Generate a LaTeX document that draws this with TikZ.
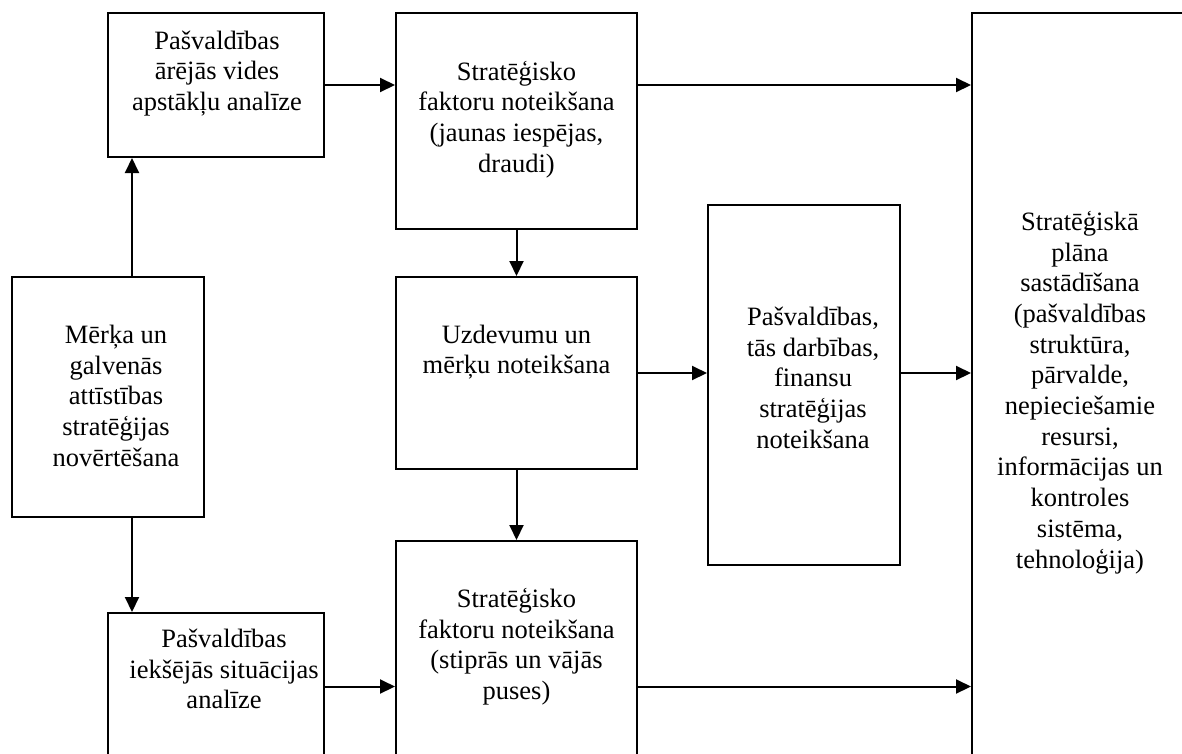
\documentclass[tikz,border=0pt]{standalone}
\usepackage{fontspec}
\setmainfont{Liberation Serif}
\usetikzlibrary{arrows.meta}
\tikzset{
  x=1pt, y=-1pt,
  box/.style={draw, line width=2pt, rectangle, inner sep=0pt},
  lbl/.style={align=center, inner sep=0pt, anchor=north, font=\fontsize{26.5}{30.7}\selectfont},
  arr/.style={line width=2pt, -{Triangle[length=15pt,width=14pt]}}
}
\begin{document}
\begin{tikzpicture}
\useasboundingbox (0,0) rectangle (1182,753);
\clip (0,0) rectangle (1182,753);
% boxes
\node[box, minimum width=216pt, minimum height=144pt] (A) at (216,85) {};
\node[box, minimum width=241pt, minimum height=216pt] (B) at (516.5,121) {};
\node[box, minimum width=241pt, minimum height=192pt] (C) at (516.5,373) {};
\node[box, minimum width=241pt, minimum height=229pt] (D) at (516.5,655.5) {};
\node[box, minimum width=192pt, minimum height=240pt] (E) at (108,397) {};
\node[box, minimum width=216pt, minimum height=147pt] (F) at (216,686.5) {};
\node[box, minimum width=192pt, minimum height=360pt] (G) at (804,385) {};
\node[box, minimum width=228pt, minimum height=757pt] (H) at (1086,391.5) {};
% texts
\node[lbl] (tA) at (217,27.6) {\strut Pašvaldības\\ārējās vides\\apstākļu analīze};
\node[lbl] (tB) at (516.5,58.6) {\strut Stratēģisko\\faktoru noteikšana\\(jaunas iespējas,\\draudi)};
\node[lbl] (tC) at (516.5,321.6) {\strut Uzdevumu un\\mērķu noteikšana};
\node[lbl] (tD) at (516.5,585.6) {\strut Stratēģisko\\faktoru noteikšana\\(stiprās un vājās\\puses)};
\node[lbl] (tE) at (116,321.6) {\strut Mērķa un\\galvenās\\attīstības\\stratēģijas\\novērtēšana};
\node[lbl] (tF) at (224,625.6) {\strut Pašvaldības\\iekšējās situācijas\\analīze};
\node[lbl] (tG) at (813,303.6) {\strut Pašvaldības,\\tās darbības,\\finansu\\stratēģijas\\noteikšana};
\node[lbl] (tH) at (1080,208.6) {\strut Stratēģiskā\\plāna\\sastādīšana\\(pašvaldības\\struktūra,\\pārvalde,\\nepieciešamie\\resursi,\\informācijas un\\kontroles\\sistēma,\\tehnoloģija)};
% connectors
\coordinate (ax) at (132,0);
\draw[arr] (E.north -| ax) -- (A.south -| ax);
\draw[arr] (E.south -| ax) -- (F.north -| ax);
\draw[arr] (A.east) -- (A.east -| B.west);
\draw[arr] (A.east -| B.east) -- (A.east -| H.west);
\draw[arr] (B.south) -- (C.north);
\draw[arr] (C.south) -- (D.north);
\draw[arr] (C.east) -- (C.east -| G.west);
\draw[arr] (C.east -| G.east) -- (C.east -| H.west);
\draw[arr] (F.east) -- (F.east -| D.west);
\draw[arr] (F.east -| D.east) -- (F.east -| H.west);
\end{tikzpicture}
\end{document}
